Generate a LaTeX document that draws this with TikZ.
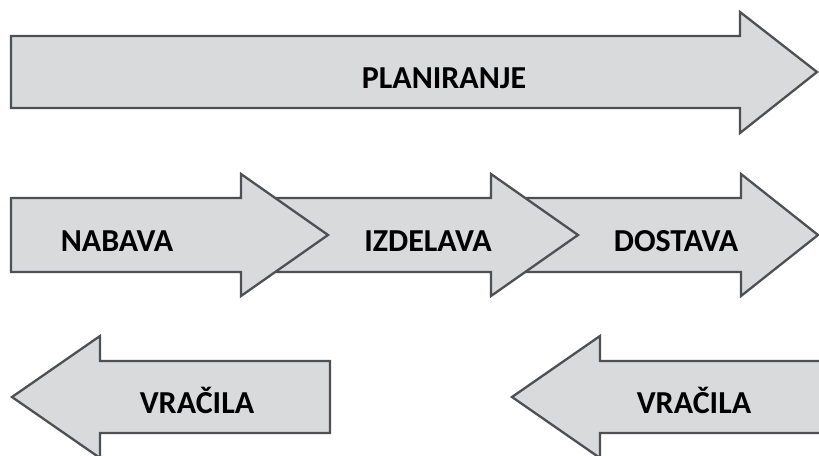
\documentclass[tikz,border=0pt]{standalone}
\usepackage{fontspec}
\setmainfont{Carlito}
\begin{document}
\begin{tikzpicture}[x=1pt,y=-1pt,
  blockarrow/.style={fill=arrowfill,draw=arrowline,line width=2.3pt,line join=miter},
  label/.style={font=\fontsize{32}{32}\selectfont\bfseries,text=black,inner sep=0pt,anchor=base}]
\definecolor{arrowfill}{HTML}{D9DADC}
\definecolor{arrowline}{HTML}{4F5054}
\useasboundingbox (0,0) rectangle (819,455);
\clip (0,0) rectangle (819,455);

% planning arrow across the top
\draw[blockarrow] (11,36) -- (740,36) -- (740,12) -- (817,72) -- (740,133) -- (740,108) -- (11,108) -- cycle;
\node[label] (plan) at (444,88) {PLANIRANJE};

% process chain, drawn back to front so each head overlaps the next body
\draw[blockarrow] (490,198) -- (741,198) -- (741,174) -- (818,235) -- (741,296) -- (741,272) -- (490,272) -- cycle;
\draw[blockarrow] (240,198) -- (491,198) -- (491,174) -- (578,235) -- (491,296) -- (491,272) -- (240,272) -- cycle;
\draw[blockarrow] (11,198) -- (241,198) -- (241,174) -- (328,235) -- (241,296) -- (241,272) -- (11,272) -- cycle;
\node[label] (nabava) at (117,251) {NABAVA};
\node[label] (izdelava) at (428,251) {IZDELAVA};
\node[label] (dostava) at (676,251) {DOSTAVA};

% return flows
\draw[blockarrow] (330,361) -- (100,361) -- (100,336) -- (12,397) -- (100,458) -- (100,433) -- (330,433) -- cycle;
\draw[blockarrow] (830,361) -- (600,361) -- (600,336) -- (512,397) -- (600,458) -- (600,433) -- (830,433) -- cycle;
\node[label] (vracilaL) at (197,413) {VRAČILA};
\node[label] (vracilaR) at (694,413) {VRAČILA};
\end{tikzpicture}
\end{document}
